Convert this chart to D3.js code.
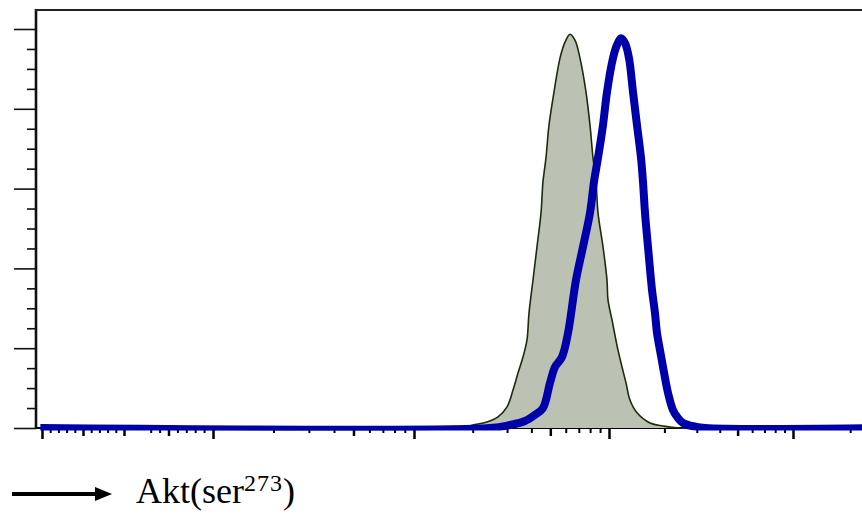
<!DOCTYPE html>
<html>
<head>
<meta charset="utf-8">
<script src="https://cdn.jsdelivr.net/npm/d3@7"></script>
<style>
  body { margin: 0; background: #fff; }
  svg { display: block; }
</style>
</head>
<body>
<script>
// fluorescence intensity (Akt ser273) vs % of max
const controlValues = [-102, 1721, 2007, 2368, 2697, 2999, 3219, 3415, 3622, 3797, 3888, 4076, 4273, 4480, 4586, 4751, 4923, 5223, 5607, 5948, 6310, 6693, 7099, 7622, 7990, 8278, 8577, 8782, 9316, 9766, 9882, 10383, 11193, 11770, 12374, 13003, 14197, 16706, 19656, 24322, 300000];
const controlPct = [0, 0, 0.75, 1.5, 2.8, 5.3, 9.5, 13.8, 17.8, 22.1, 28.8, 37.1, 45.4, 53.9, 61.7, 67.7, 75.9, 84.2, 92.7, 96.7, 98.7, 97.2, 92.7, 84.2, 75.9, 67.7, 61.7, 53.9, 45.4, 37.1, 32.1, 27.1, 19.5, 15.3, 11.3, 7.0, 3.8, 1.25, 0.5, 0, 0];

const treatedValues = [-102, 2453, 3107, 3708, 4173, 4586, 4983, 5285, 5741, 6162, 6772, 7356, 7990, 8377, 8782, 9316, 9766, 10513, 11053, 11620, 12218, 12844, 13503, 14197, 14926, 15302, 15693, 16293, 17130, 17783, 18234, 18931, 19656, 20929, 22276, 23714, 25250, 28250, 33240, 300000];
const treatedPct = [0, 0, 0.75, 1.75, 3.3, 5.0, 11.3, 15.3, 17.8, 23.8, 37.1, 45.4, 53.9, 61.7, 67.7, 75.9, 84.2, 92.7, 96.0, 97.7, 96.5, 92.7, 84.2, 75.9, 67.7, 61.7, 53.9, 45.4, 34.6, 28.8, 23.8, 19.5, 15.3, 8.8, 4.5, 2.5, 1.25, 0.5, 0, 0];

// axis ticks (no labels on this plot)
const yMajorTicks = [0, 20, 40, 60, 80, 100];
const yMinorTicks = [5, 10, 15, 25, 30, 35, 45, 50, 55, 65, 70, 75, 85, 90, 95];
const xLinMajor = [-100, 100];
const xLinMid = [-50, 0, 50];
const xLinMinor = [-90, -80, -70, -60, -40, -30, -20, -10, 30, 40, 60, 70, 80, 90];
const xLogMajor = [1e3, 1e4, 1e5];
const xLogMid = [500, 5000, 50000];
const xLogMinor = [200, 300, 400, 600, 700, 800, 900, 2000, 3000, 4000, 6000, 7000, 8000, 9000, 20000, 30000, 40000, 60000, 70000, 80000, 90000, 200000];

const axisLabel = 'Akt(ser';
const axisLabelSup = '273';

const W = 862, H = 514;
const plot = { left: 36, right: 862, top: 10, bottom: 428 };

const svg = d3.select('body')
  .append('svg')
  .attr('width', W)
  .attr('height', H);

// biexponential-like x: linear around zero, log above 100
const xLin = d3.scaleLinear()
  .domain([-100, 0, 100])
  .range([42, 124, 213]);

const xLog = d3.scaleLog()
  .domain([100, 1e3, 1e4, 1e5, 1e6])
  .range([213, 414, 609, 793, 983]);

const xPos = (v) => v < 100 ? xLin(v) : xLog(v);

const yScale = d3.scaleLinear()
  .domain([0, 100])
  .range([plot.bottom, 29]);

// x ticks
const addXAxis = (scale, values, size, width) => {
  svg.append('g')
    .attr('transform', 'translate(0,' + plot.bottom + ')')
    .call(d3.axisBottom(scale).tickValues(values).tickSize(size).tickSizeOuter(0).tickFormat(''))
    .call((g) => g.select('.domain').remove())
    .call((g) => g.selectAll('line').attr('stroke', '#000').attr('stroke-width', width));
};
addXAxis(xLin, xLinMinor, 5, 2);
addXAxis(xLin, xLinMid, 8, 2.5);
addXAxis(xLin, xLinMajor, 11, 2.5);
addXAxis(xLog, xLogMinor, 5, 2);
addXAxis(xLog, xLogMid, 8, 2.5);
addXAxis(xLog, xLogMajor, 11, 2.5);

// y ticks
const addYAxis = (values, size) => {
  svg.append('g')
    .attr('transform', 'translate(' + plot.left + ',0)')
    .call(d3.axisLeft(yScale).tickValues(values).tickSize(size).tickSizeOuter(0).tickFormat(''))
    .call((g) => g.select('.domain').remove())
    .call((g) => g.selectAll('line').attr('stroke', '#111').attr('stroke-width', 1.6));
};
addYAxis(yMinorTicks, 9);
addYAxis(yMajorTicks, 22);

// frame: left axis and top edge
svg.append('line')
  .attr('x1', plot.left).attr('x2', plot.left)
  .attr('y1', plot.top - 1).attr('y2', plot.bottom + 1)
  .attr('stroke', '#111')
  .attr('stroke-width', 2.6);

svg.append('line')
  .attr('x1', plot.left - 1).attr('x2', plot.right)
  .attr('y1', plot.top).attr('y2', plot.top)
  .attr('stroke', '#222')
  .attr('stroke-width', 1.8);

svg.append('line')
  .attr('x1', plot.left).attr('x2', plot.right)
  .attr('y1', plot.bottom).attr('y2', plot.bottom)
  .attr('stroke', '#000')
  .attr('stroke-width', 2);

svg.append('clipPath')
  .attr('id', 'clip')
  .append('rect')
  .attr('x', plot.left + 3)
  .attr('y', plot.top)
  .attr('width', plot.right - plot.left)
  .attr('height', plot.bottom - plot.top + 2.5);

const control = controlValues.map((v, i) => [v, controlPct[i]]);
const treated = treatedValues.map((v, i) => [v, treatedPct[i]]);

const curve = d3.curveCatmullRom.alpha(0.5);

const area = d3.area()
  .x((d) => xPos(d[0]))
  .y0(yScale(0))
  .y1((d) => yScale(d[1]))
  .curve(curve);

const line = d3.line()
  .x((d) => xPos(d[0]))
  .y((d) => yScale(d[1]))
  .curve(curve);

const curves = svg.append('g').attr('clip-path', 'url(#clip)');

curves.append('path')
  .datum(control)
  .attr('d', area)
  .attr('fill', '#bbc1b3');

curves.append('path')
  .datum(control)
  .attr('d', line)
  .attr('fill', 'none')
  .attr('stroke', '#1b2b0b')
  .attr('stroke-width', 1.6);

curves.append('path')
  .datum(treated)
  .attr('d', line)
  .attr('fill', 'none')
  .attr('stroke', '#0000aa')
  .attr('stroke-width', 8)
  .attr('stroke-linejoin', 'round');

// arrow + axis label
svg.append('line')
  .attr('x1', 12).attr('x2', 97)
  .attr('y1', 494).attr('y2', 494)
  .attr('stroke', '#000')
  .attr('stroke-width', 4);

svg.append('path')
  .attr('d', 'M95,487 L112,494 L95,501 Z')
  .attr('fill', '#000');

const label = svg.append('text')
  .attr('x', 136)
  .attr('y', 503)
  .style('font-family', '"Liberation Serif", "Times New Roman", serif')
  .style('font-size', '36px')
  .style('fill', '#000');

label.append('tspan').text(axisLabel);
label.append('tspan')
  .attr('dy', -12)
  .style('font-size', '24px')
  .style('letter-spacing', '1px')
  .text(axisLabelSup);
label.append('tspan')
  .attr('dy', 12)
  .text(')');
</script>
</body>
</html>
